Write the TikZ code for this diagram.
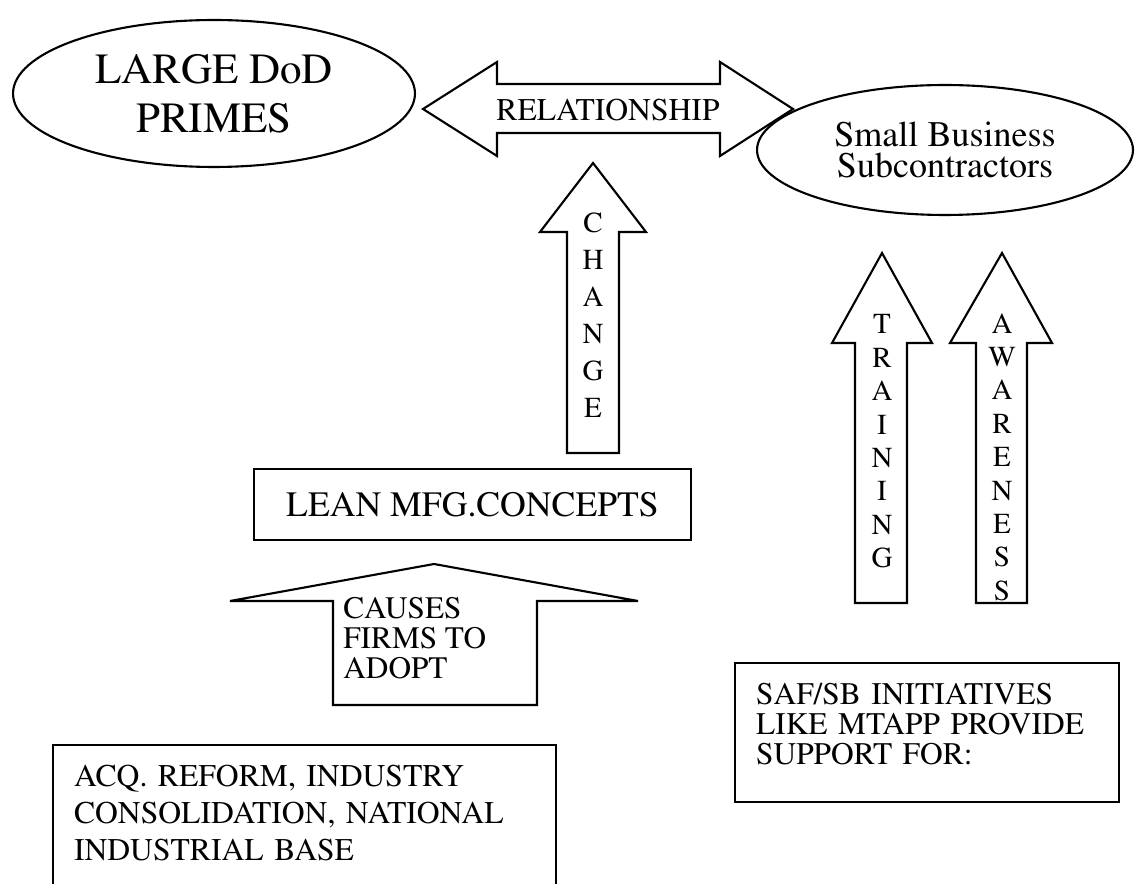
\documentclass[tikz,border=0pt]{standalone}
\usepackage[T1]{fontenc}
\usepackage{times}
\usetikzlibrary{shapes.geometric}
\tikzset{
  oval/.style={draw, ellipse, line width=1.2pt, inner sep=0pt, align=center},
  blockarrow/.style={draw, line width=1.2pt, line join=miter},
  textbox/.style={draw, line width=1.2pt, anchor=north west, align=left, inner xsep=0.42cm, inner ysep=0.4cm},
  column/.style={align=center, inner sep=0pt, font=\fontsize{16.5}{19}\selectfont},
}
\begin{document}
\begin{tikzpicture}[x=0.02cm, y=-0.02cm]
\useasboundingbox (0,0) rectangle (1135,884);
\node[oval, minimum width=8.04cm, minimum height=2.94cm, font=\fontsize{24.5}{28}\selectfont] (primes) at (214,93.5) {LARGE DoD\\PRIMES};
\node[oval, minimum width=7.52cm, minimum height=2.6cm, font=\fontsize{20.5}{17.5}\selectfont] (subs) at (945,150) {Small Business\\Subcontractors};
\draw[blockarrow] (423,109) -- (497,62) -- (497,84) -- (720,84) -- (720,62) -- (793,109) -- (720,156) -- (720,133) -- (497,133) -- (497,156) -- cycle;
\node[font=\fontsize{18}{20}\selectfont] (rel) at (608,110) {RELATIONSHIP};
\draw[blockarrow] (593,163) -- (646,232) -- (619,232) -- (619,453) -- (567,453) -- (567,232) -- (540,232) -- cycle;
\node[column, font=\fontsize{16.5}{21}\selectfont] (change) at (593,315) {C\\H\\A\\N\\G\\E};
\node[draw, line width=1.2pt, minimum width=8.74cm, minimum height=1.42cm, inner sep=0pt, font=\fontsize{20.3}{22}\selectfont] (lean) at (472.5,504.5) {LEAN MFG.CONCEPTS};
\draw[blockarrow] (434,564) -- (638,601) -- (537,601) -- (537,705) -- (333,705) -- (333,601) -- (230,601) -- cycle;
\node[anchor=west, align=left, inner sep=0pt, font=\fontsize{17.8}{17}\selectfont] (causes) at (343,638) {CAUSES\\FIRMS TO\\ADOPT};
\draw[blockarrow] (882,253) -- (932,343) -- (907,343) -- (907,603) -- (855,603) -- (855,343) -- (832,343) -- cycle;
\node[column] (training) at (882,441.5) {T\\R\\A\\I\\N\\I\\N\\G};
\draw[blockarrow] (1002,253) -- (1052,343) -- (1027,343) -- (1027,603) -- (976,603) -- (976,343) -- (950,343) -- cycle;
\node[column] (awareness) at (1002,457) {A\\W\\A\\R\\E\\N\\E\\S\\S};
\node[textbox, text width=6.84cm, text depth=1.56cm, font=\fontsize{17.9}{17}\selectfont] (saf) at (734,662) {SAF/SB INITIATIVES\\LIKE MTAPP PROVIDE\\SUPPORT FOR:};
\node[textbox, text width=9.22cm, text depth=1.75cm, font=\fontsize{18}{21}\selectfont] (acq) at (52,744) {ACQ. REFORM, INDUSTRY\\CONSOLIDATION, NATIONAL\\INDUSTRIAL BASE};
\end{tikzpicture}
\end{document}
